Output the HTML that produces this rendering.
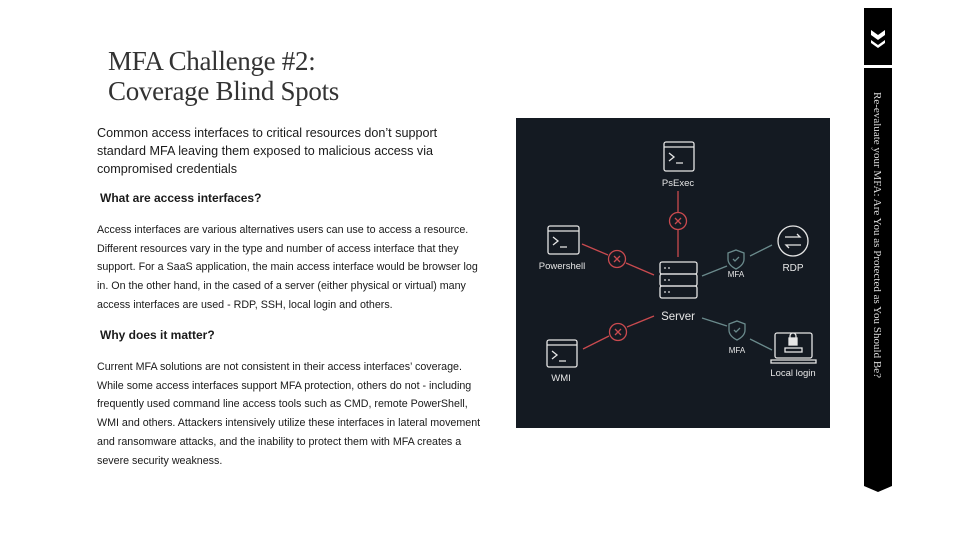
<!DOCTYPE html>
<html><head><meta charset="utf-8"><style>
html,body{margin:0;padding:0;background:#fff;}
body{width:960px;height:540px;position:relative;overflow:hidden;font-family:"Liberation Sans",sans-serif;color:#1a1a1a;}
.t{position:absolute;white-space:nowrap;}
.title{font-family:"Liberation Serif",serif;font-size:27px;color:#333;left:108px;line-height:30px;letter-spacing:-0.3px;}
.lead{font-size:12.6px;left:97px;line-height:18px;}
.h{font-size:12px;font-weight:bold;left:100px;}
.p{font-size:10.7px;left:97px;line-height:18.7px;}
</style></head><body>
<div class="t title" style="top:46px">MFA Challenge #2:</div>
<div class="t title" style="top:76px">Coverage Blind Spots</div>
<div class="t lead" style="top:124px">Common access interfaces to critical resources don’t support<br>standard MFA leaving them exposed to malicious access via<br>compromised credentials</div>
<div class="t h" style="top:191px">What are access interfaces?</div>
<div class="t p" style="top:221px">Access interfaces are various alternatives users can use to access a resource.<br>Different resources vary in the type and number of access interface that they<br>support. For a SaaS application, the main access interface would be browser log<br>in. On the other hand, in the cased of a server (either physical or virtual) many<br>access interfaces are used - RDP, SSH, local login and others.</div>
<div class="t h" style="top:328px">Why does it matter?</div>
<div class="t p" style="top:358px">Current MFA solutions are not consistent in their access interfaces’ coverage.<br>While some access interfaces support MFA protection, others do not - including<br>frequently used command line access tools such as CMD, remote PowerShell,<br>WMI and others. Attackers intensively utilize these interfaces in lateral movement<br>and ransomware attacks, and the inability to protect them with MFA creates a<br>severe security weakness.</div>

<svg style="position:absolute;left:0;top:0" width="960" height="540">
<rect x="516" y="118" width="314" height="310" fill="#141a22"/>
<g fill="none" stroke-width="1.3">
<g stroke="#c94a4f">
<line x1="678" y1="191" x2="678" y2="212"/><line x1="678" y1="230" x2="678" y2="257"/>
<line x1="582" y1="244" x2="608" y2="255"/><line x1="626" y1="263" x2="654" y2="275"/>
<line x1="583" y1="349" x2="609" y2="336"/><line x1="627" y1="327" x2="654" y2="316"/>
<circle cx="678" cy="221" r="8.5"/><circle cx="617" cy="259" r="8.5"/><circle cx="618" cy="332" r="8.5"/>
<path d="M675 218l6 6M681 218l-6 6M614 256l6 6M620 256l-6 6M615 329l6 6M621 329l-6 6"/>
</g>
<g stroke="#6a8a8c">
<line x1="702" y1="276" x2="727" y2="266"/><line x1="750" y1="256" x2="772" y2="245"/>
<line x1="702" y1="318" x2="727" y2="326"/><line x1="750" y1="339" x2="772" y2="350"/>
<path d="M736 250l8 3v6c0 5-4 8-8 10c-4-2-8-5-8-10v-6z"/><path d="M733 259l2 2 4-4"/>
<path d="M737 321l8 3v6c0 5-4 8-8 10c-4-2-8-5-8-10v-6z"/><path d="M734 330l2 2 4-4"/>
</g>
<g stroke="#e6e6e6">
<rect x="664" y="142" width="30" height="29" rx="2"/><line x1="664" y1="147" x2="694" y2="147"/><path d="M669 153l5 4-5 4M676 163h7"/>
<rect x="548" y="226" width="31" height="28" rx="2"/><line x1="548" y1="231" x2="579" y2="231"/><path d="M553 237l5 4-5 4M560 247h7"/>
<rect x="547" y="340" width="30" height="27" rx="2"/><line x1="547" y1="345" x2="577" y2="345"/><path d="M552 351l5 4-5 4M559 361h7"/>
<rect x="660" y="262" width="37" height="12" rx="2"/><rect x="660" y="274" width="37" height="12" rx="2"/><rect x="660" y="286" width="37" height="12" rx="2"/>
<circle cx="793" cy="241" r="15"/><path d="M785 237h15l-3-3M801 245h-15l3 3"/>
<rect x="775" y="333" width="37" height="25" rx="2"/><path d="M771 360h45v3h-45z"/><rect x="785" y="348" width="17" height="4"/><rect x="789" y="338" width="8" height="7" fill="#e6e6e6"/><path d="M790 338v-2a3 3 0 0 1 6 0v2"/>
</g>
</g>
<g fill="#e6e6e6"><circle cx="665" cy="268" r="0.9"/><circle cx="669" cy="268" r="0.9"/><circle cx="665" cy="280" r="0.9"/><circle cx="669" cy="280" r="0.9"/><circle cx="665" cy="292" r="0.9"/><circle cx="669" cy="292" r="0.9"/></g>
<g font-family="Liberation Sans,sans-serif" text-anchor="middle" fill="#e6e6e6" font-size="9.5">
<text x="678" y="186">PsExec</text><text x="562" y="269">Powershell</text><text x="561" y="381">WMI</text>
<text x="793" y="271" font-size="10">RDP</text><text x="793" y="376">Local login</text>
<text x="678" y="320" font-size="11.5">Server</text>
<text x="736" y="277" font-size="8">MFA</text><text x="737" y="353" font-size="8">MFA</text>
</g>
<rect x="864" y="8" width="28" height="57" fill="#000"/>
<path d="M871 30l7 5 7-5v5l-7 5-7-5zM871 40l7 5 7-5v3l-7 5-7-5z" fill="#fff"/>
<path d="M864 68h28v418l-14 6-14-6z" fill="#000"/>
<text transform="translate(874,92) rotate(90)" font-family="Liberation Serif,serif" font-size="11" fill="#ddd" textLength="286" lengthAdjust="spacingAndGlyphs">Re-evaluate your MFA: Are You as Protected as You Should Be?</text>
</svg>
</body></html>
